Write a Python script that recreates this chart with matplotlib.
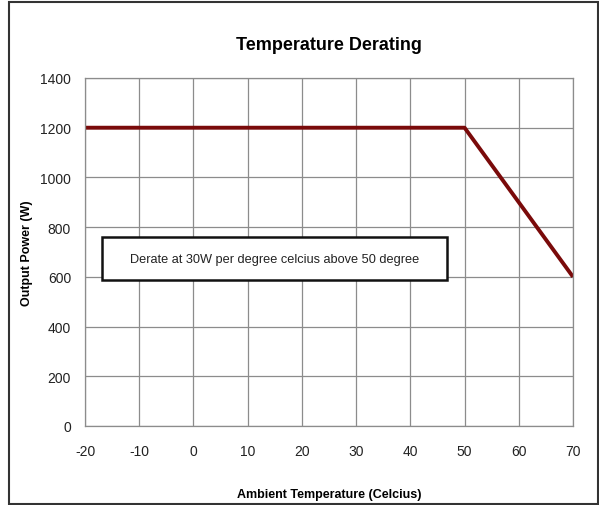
import matplotlib.pyplot as plt
from matplotlib.patches import Rectangle

# Derating curve data
temps = [-20, 50, 70]
power = [1200, 1200, 600]
x_ticks = [-20, -10, 0, 10, 20, 30, 40, 50, 60, 70]
y_ticks = [0, 200, 400, 600, 800, 1000, 1200, 1400]

plt.rcParams['font.family'] = ['Liberation Sans Narrow', 'Liberation Sans', 'DejaVu Sans']
plt.rcParams['axes.unicode_minus'] = False

fig = plt.figure(figsize=(5.99, 5.06), dpi=100)
ax = fig.add_axes([85 / 599, 1 - 427 / 506, 488 / 599, 348 / 506])

ax.plot(temps, power, color='#7a0a0a', linewidth=2.8, solid_capstyle='butt')

ax.set_xlim(-20, 70)
ax.set_ylim(0, 1400)
ax.set_xticks(x_ticks)
ax.set_yticks(y_ticks)
ax.grid(True, color='#8c8c8c', linewidth=0.9)
ax.set_axisbelow(True)
ax.tick_params(length=0, labelsize=10, colors='#222222')
ax.tick_params(axis='x', pad=13)
ax.tick_params(axis='y', pad=10)
for s in ax.spines.values():
    s.set_color('#8c8c8c')
    s.set_linewidth(0.9)

ax.set_title('Temperature Derating', fontsize=13, fontweight='bold', pad=21)
ax.set_xlabel('Ambient Temperature (Celcius)', fontsize=9, fontweight='bold')
ax.set_ylabel('Output Power (W)', fontsize=9, fontweight='bold')
ax.xaxis.set_label_coords(0.5, -0.178)
ax.yaxis.set_label_coords(-0.107, 0.5)

# annotation box
fig.patches.append(Rectangle((102 / 599, 1 - 281 / 506), 345 / 599, 43 / 506,
                             transform=fig.transFigure, fill=True, facecolor='white',
                             edgecolor='#111111', linewidth=1.8, zorder=3))
fig.text(274.5 / 599, 1 - 259.5 / 506, 'Derate at 30W per degree celcius above 50 degree',
         ha='center', va='center', fontsize=9.2, color='#222222', zorder=5)

# outer frame
fig.patches.append(Rectangle((8.5 / 599, 1.5 / 506), 589 / 599, 502 / 506,
                             transform=fig.transFigure, fill=False,
                             edgecolor='#333333', linewidth=1.5))

fig.savefig('out.png', dpi=100)
